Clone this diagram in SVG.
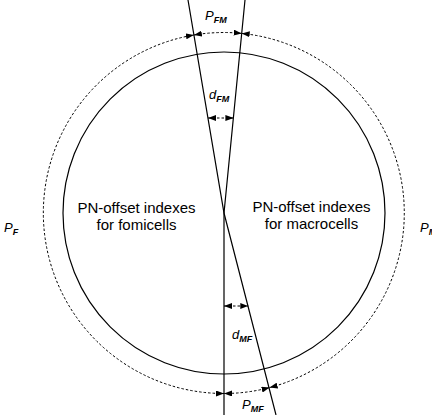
<svg xmlns="http://www.w3.org/2000/svg" width="432" height="415" viewBox="0 0 432 415">
  <style>
    .solid { fill: none; stroke: #000; stroke-width: 1.2; }
    .dash { fill: none; stroke: #000; stroke-width: 1; stroke-dasharray: 2.5 2; }
    .main { font-family: "Liberation Sans", Arial, sans-serif; font-size: 15px; fill: #000; text-anchor: middle; }
    .lbl { font-family: "Liberation Sans", Arial, sans-serif; font-style: italic; font-size: 13px; fill: #000; }
    .sub { font-size: 9px; font-weight: bold; }
  </style>
  <defs>
    <marker id="ah" viewBox="0 0 8 6" refX="8" refY="3" markerWidth="8" markerHeight="6" markerUnits="userSpaceOnUse" orient="auto-start-reverse">
      <path d="M0,0 L8,3 L0,6 Z" fill="#000" stroke="none"/>
    </marker>
  </defs>

  <g id="inner-circle">
    <circle class="solid" cx="224" cy="213" r="161"/>
  </g>

  <g id="region-fomicells">
    <text class="main" x="136.5" y="213">PN-offset indexes</text>
    <text class="main" x="136.5" y="230">for fomicells</text>
  </g>
  <g id="region-macrocells">
    <text class="main" x="311.5" y="212">PN-offset indexes</text>
    <text class="main" x="311.5" y="229">for macrocells</text>
  </g>

  <g id="connectors">
    <polyline class="solid" points="188,0 224,213 276,415"/>
    <polyline class="solid" points="245,0 224,213 224,415"/>
    <!-- outer dashed arcs r=180.5 -->
    <path class="dash" d="M193.9,35 A180.5,180.5 0 0 1 241.7,33.4" marker-start="url(#ah)" marker-end="url(#ah)"/>
    <path class="dash" d="M241.7,33.4 A180.5,180.5 0 0 1 269.6,387.6" marker-start="url(#ah)" marker-end="url(#ah)"/>
    <path class="dash" d="M269.6,387.6 A180.5,180.5 0 0 1 224,393.5" marker-start="url(#ah)" marker-end="url(#ah)"/>
    <path class="dash" d="M224,393.5 A180.5,180.5 0 0 1 193.9,35" marker-start="url(#ah)" marker-end="url(#ah)"/>
    <!-- d dimensions -->
    <line class="dash" x1="208" y1="118" x2="233.4" y2="118" marker-start="url(#ah)" marker-end="url(#ah)"/>
    <line class="dash" x1="224" y1="306" x2="248.3" y2="306" marker-start="url(#ah)" marker-end="url(#ah)"/>
  </g>

  <g id="labels">
    <text class="lbl" x="205" y="20">P<tspan class="sub" dy="3">FM</tspan></text>
    <text class="lbl" x="209" y="99">d<tspan class="sub" dy="3">FM</tspan></text>
    <text class="lbl" x="232" y="339">d<tspan class="sub" dy="3">MF</tspan></text>
    <text class="lbl" x="242" y="409">P<tspan class="sub" dy="3">MF</tspan></text>
    <text class="lbl" x="4" y="232">P<tspan class="sub" dy="3">F</tspan></text>
    <text class="lbl" x="420" y="232">P<tspan class="sub" dy="3">M</tspan></text>
  </g>
</svg>
